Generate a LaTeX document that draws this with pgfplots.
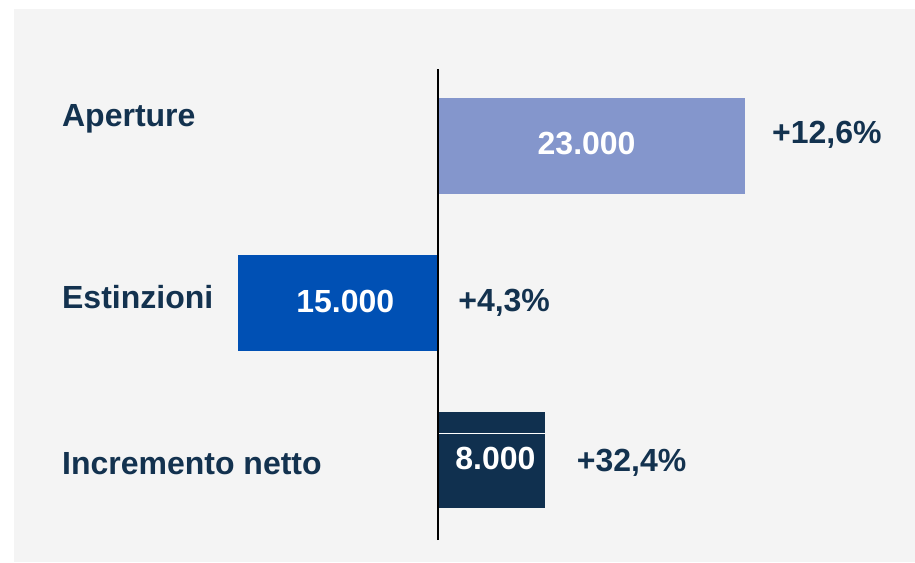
\documentclass[border=0pt]{standalone}
\usepackage{pgfplots}
\pgfplotsset{compat=1.18}
\usepackage{fontspec}
\setmainfont{Liberation Sans}
\definecolor{bg}{HTML}{F4F4F4}
\definecolor{cLight}{HTML}{8496CC}
\definecolor{cMid}{HTML}{0050B4}
\definecolor{cDark}{HTML}{10304F}
\definecolor{cText}{HTML}{13324F}
\newcommand{\bigbf}{\fontsize{32}{36}\selectfont\bfseries}
\tikzset{lbl/.style={font=\bigbf, inner sep=0pt}}
\begin{document}
\begin{tikzpicture}[x=1pt,y=1pt]
\fill[white] (0,0) rectangle (915,562);
\fill[bg] (14,0) rectangle (915,553);
\begin{axis}[
  at={(0,0)}, anchor=south west,
  scale only axis, width=915pt, height=562pt,
  xmin=-32900, xmax=35800, ymin=-0.6497, ymax=2.9299,
  axis lines=none, ticks=none,
  xbar, bar width=0.611, bar shift=0pt,
  clip=false,
]
\addplot[fill=cLight, draw=none] coordinates {(23000,2)};
\addplot[fill=cMid, draw=none] coordinates {(-15000,1)};
\addplot[fill=cDark, draw=none] coordinates {(8000,0)};
\draw[white, line width=1pt] (axis cs:0,0.1656) -- (axis cs:8000,0.1656);
\draw[black, line width=1.5pt] (axis cs:0,-0.5096) -- (axis cs:0,2.490);
% category labels
\node[lbl, anchor=base west, text=cText] at (axis cs:-28250,2.121) {Aperture};
\node[lbl, anchor=base west, text=cText] at (axis cs:-28250,0.966) {Estinzioni};
\node[lbl, anchor=base west, text=cText] at (axis cs:-28250,-0.0955) {Incremento netto};
% values
\node[lbl, anchor=base, text=white] at (axis cs:11144,1.947) {23.000};
\node[lbl, anchor=base, text=white] at (axis cs:-6978,0.938) {15.000};
\node[lbl, anchor=base, text=white] at (axis cs:4301,-0.0637) {8.000};
% changes
\node[lbl, anchor=base west, text=cText] at (axis cs:25056,2.013) {+12,6\%};
\node[lbl, anchor=base west, text=cText] at (axis cs:1496,0.945) {+4,3\%};
\node[lbl, anchor=base west, text=cText] at (axis cs:10396,-0.076) {+32,4\%};
\end{axis}
\end{tikzpicture}
\end{document}
